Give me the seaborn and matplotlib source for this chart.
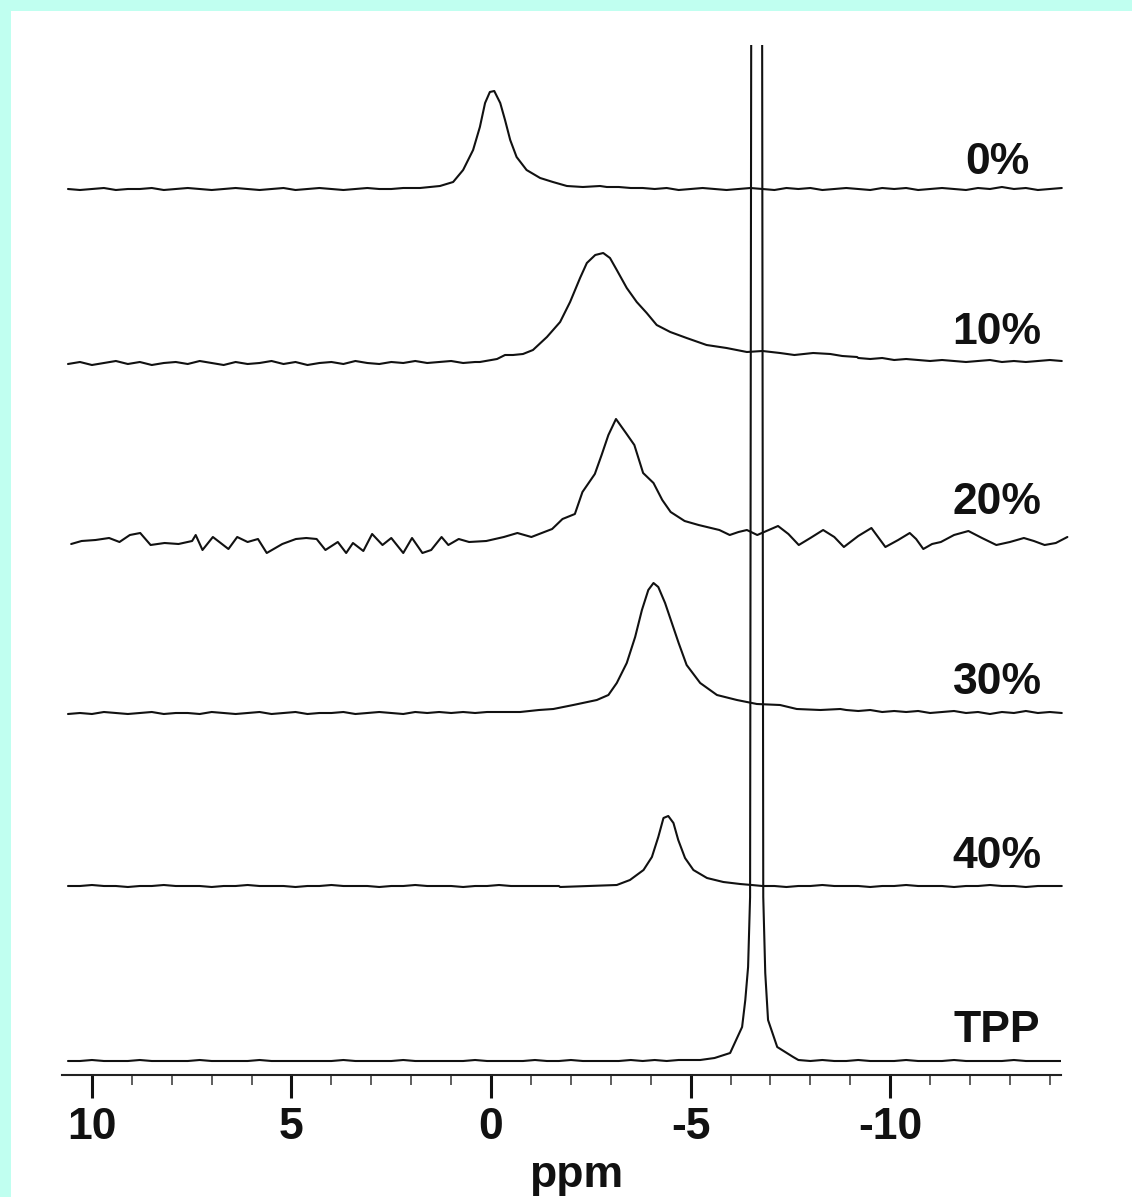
import numpy as np
import pandas as pd
import matplotlib
matplotlib.use("Agg")
import matplotlib.pyplot as plt
from matplotlib.patches import Rectangle
from matplotlib.ticker import FixedLocator
import seaborn as sns

# ---------------- data ----------------
labels = ["0%", "10%", "20%", "30%", "40%", "TPP"]
offsets = [886, 712, 535, 362, 189, 14]          # stacking offset of each trace (a.u.)

grid_ppm = [10.6, 10.3, 10.0, 9.7, 9.4, 9.1, 8.8, 8.5, 8.2, 7.9,
            7.6, 7.3, 7.0, 6.7, 6.4, 6.1, 5.8, 5.5, 5.2, 4.9,
            4.6, 4.3, 4.0, 3.7, 3.4, 3.1, 2.8, 2.5, 2.2, 1.9,
            1.6, 1.3, 1.0, 0.7, 0.4, 0.1, -0.2, -0.5, -0.8, -1.1,
            -1.4, -1.7, -2.0, -2.3, -2.6, -2.9, -3.2, -3.5, -3.8, -4.1,
            -4.4, -4.7, -5.0, -5.3, -5.6, -5.9, -6.2, -6.5, -6.8, -7.1,
            -7.4, -7.7, -8.0, -8.3, -8.6, -8.9, -9.2, -9.5, -9.8, -10.1,
            -10.4, -10.7, -11.0, -11.3, -11.6, -11.9, -12.2, -12.5, -12.8, -13.1,
            -13.4, -13.7, -14.0, -14.3]

base_0 = [0, -1, 0, 1, -1, 0, 0, 1, -1, 0,
          1, 0, -1, 0, 1, 0, -1, 0, 1, -1,
          0, 1, 0, -1, 0, 1, 0, 0, 1, 1,
          0, 0, 0, 0, 0, 0, 0, 0, 0, 0, 0, 0, 0, 0, 0,
          2, 2, 1, 1, 0, 1, -1, 0, 1, 0,
          -1, 0, 1, 0, -1, 1, 0, 1, -1, 0,
          1, 0, -1, 1, 0, 1, -1, 0, 1, 0,
          -1, 1, 0, 2, 0, 1, -1, 0, 1]
base_10 = [-1, 1, -2, 0, 2, -1, 1, -2, 0, 1,
           -1, 2, 0, -2, 1, -1, 0, 2, -1, 1,
           -2, 0, 1, -1, 2, 0, -1, 1, 0, 2,
           0, 1, 2, 0, 1,
           0, 0, 0, 0, 0, 0, 0, 0, 0, 0, 0, 0, 0, 0, 0, 0,
           0, 0, 0, 0, 0, 0, 0, 0, 0, 0, 0, 0, 0, 0, 0,
           5, 4, 5, 3, 4, 3, 2, 3, 2, 1,
           2, 3, 1, 2, 1, 2, 3, 2]
base_30 = [-1, 0, -1, 1, 0, -1, 0, 1, -1, 0,
           0, -1, 1, 0, -1, 0, 1, -1, 0, 1,
           -1, 0, 0, 1, -1, 0, 1, 0, -1, 1,
           0, 1, 0, 1, 0, 1, 1, 1,
           0, 0, 0, 0, 0, 0, 0, 0, 0, 0, 0, 0, 0, 0,
           0, 0, 0, 0, 0, 0, 0, 0, 0, 0, 0, 0, 0,
           3, 2, 3, 1, 2, 1, 2, 0, 1, 2,
           0, 1, -1, 1, 0, 2, 0, 1, 0]
base_40 = [0, 0, 1, 0, 0, -1, 0, 0, 1, 0,
           0, 0, -1, 0, 0, 1, 0, 0, 0, -1,
           0, 0, 1, 0, 0, 0, -1, 0, 0, 1,
           0, 0, 0, -1, 0, 0, 1, 0, 0, 0, 0,
           0, 0, 0, 0, 0, 0, 0, 0, 0, 0, 0, 0, 0, 0, 0, 0, 0,
           0, 0, -1, 0, 0, 1, 0, 0, 0, -1,
           0, 0, 1, 0, 0, 0, -1, 0, 0, 1,
           0, 0, -1, 0, 0, 0]
base_tpp = [0, 0, 1, 0, 0, 0, 1, 0, 0, 0,
            0, 1, 0, 0, 0, 0, 1, 0, 0, 0,
            0, 0, 0, 1, 0, 0, 0, 0, 1, 0,
            0, 0, 0, 0, 1, 0, 0, 0, 0, 1,
            0, 0, 1, 0, 0, 0, 0, 1, 0, 1, 0, 1, 1,
            0, 0, 0, 0, 0, 0, 0, 0,
            1, 0, 1, 0, 0, 1, 0, 0, 0, 1,
            0, 0, 0, 1, 0, 0, 0, 0, 1, 0, 0, 0, 0]

peak_0_ppm = [1.78, 1.28, 0.95, 0.70, 0.45, 0.28, 0.15, 0.03, -0.08, -0.23,
              -0.35, -0.48, -0.64, -0.89, -1.23, -1.55, -1.90, -2.30, -2.73]
peak_0_int = [1, 3, 7, 19, 39, 62, 86, 97, 98, 86,
              69, 49, 32, 19, 11, 7, 3, 2, 3]

peak_10_ppm = [0.28, -0.15, -0.35, -0.55, -0.8, -1.05, -1.40, -1.73, -1.98, -2.23,
               -2.40, -2.61, -2.81, -2.98, -3.15, -3.40, -3.65, -3.90, -4.15, -4.49,
               -4.90, -5.40, -5.90, -6.41, -6.8, -7.24, -7.6, -8.07, -8.5, -8.8, -9.17]
peak_10_int = [1, 4, 8, 8, 9, 13, 26, 41, 61, 85,
               100, 108, 110, 105, 93, 75, 61, 50, 38, 31,
               25, 18, 15, 11, 12, 10, 8, 10, 9, 7, 6]

trace_20_ppm = [10.52, 10.26, 9.91, 9.57, 9.31, 9.05, 8.79, 8.53, 8.18, 7.83,
                7.49, 7.40, 7.23, 6.97, 6.58, 6.36, 6.10, 5.84, 5.62, 5.23,
                4.89, 4.63, 4.37, 4.15, 3.84, 3.63, 3.46, 3.20, 2.98, 2.72,
                2.50, 2.20, 1.98, 1.72, 1.50, 1.24, 1.07, 0.81, 0.55, 0.12,
                -0.32, -0.66, -1.01, -1.53, -1.79, -2.10, -2.29, -2.60, -2.77, -2.94,
                -3.13, -3.38, -3.59, -3.81, -4.07, -4.29, -4.50, -4.85, -5.20, -5.72,
                -5.98, -6.2, -6.41, -6.67, -6.9, -7.19, -7.45, -7.71, -8.0, -8.32,
                -8.6, -8.84, -9.2, -9.53, -9.88, -10.2, -10.49, -10.65, -10.83, -11.05,
                -11.27, -11.6, -11.96, -12.3, -12.66, -13.0, -13.35, -13.6, -13.87, -14.15,
                -14.44]
trace_20_int = [-4, -1, 0, 2, -2, 5, 7, -5, -3, -4,
                -1, 5, -10, 3, -9, 3, -2, 1, -13, -4,
                1, 2, 1, -10, -2, -13, -3, -11, 6, -5,
                2, -13, 2, -13, -10, 3, -5, 1, -2, -1,
                3, 7, 3, 11, 21, 26, 48, 66, 85, 105,
                121, 107, 95, 67, 57, 40, 28, 19, 15, 10,
                5, 8, 10, 5, 9, 14, 6, -5, 2, 10,
                3, -7, 4, 12, -7, 0, 7, 1, -9, -4,
                -2, 5, 9, 2, -5, -2, 2, -1, -5, -3,
                3]

peak_30_ppm = [-0.73, -1.2, -1.56, -2.06, -2.65, -2.94, -3.15, -3.40, -3.61, -3.78,
               -3.94, -4.07, -4.19, -4.36, -4.53, -4.70, -4.90, -5.24, -5.66, -6.16,
               -6.66, -7.24, -7.66, -8.25, -8.75]
peak_30_int = [1, 3, 4, 8, 13, 18, 30, 50, 76, 103,
               123, 130, 126, 110, 90, 70, 48, 30, 18, 13,
               9, 8, 4, 3, 4]

peak_40_ppm = [-1.73, -3.15, -3.48, -3.82, -4.03, -4.19, -4.32, -4.44, -4.57, -4.69,
               -4.86, -5.07, -5.41, -5.82, -6.24, -6.53]
peak_40_int = [-1, 1, 6, 16, 29, 49, 68, 70, 63, 46,
               28, 16, 8, 4, 2, 1]

peak_tpp_ppm = [-5.24, -5.6, -5.99, -6.29, -6.37, -6.44, -6.49, -6.53, -6.65, -6.78,
                -6.82, -6.87, -6.94, -7.17, -7.57]
peak_tpp_int = [1, 3, 8, 34, 61, 94, 164, 1400, 3000, 1400,
                164, 88, 41, 14, 4]

major_ticks = [10, 5, 0, -5, -10]
minor_ticks = [9, 8, 7, 6, 4, 3, 2, 1, -1, -2, -3, -4, -6, -7, -8, -9,
               -11, -12, -13, -14]


def merge(base, pk_ppm, pk_int):
    lo, hi = min(pk_ppm), max(pk_ppm)
    pts = [(p, v) for p, v in zip(grid_ppm, base) if not (lo <= p <= hi)]
    pts += list(zip(pk_ppm, pk_int))
    pts.sort()
    return [p for p, _ in pts], [v for _, v in pts]


traces = {
    "0%": merge(base_0, peak_0_ppm, peak_0_int),
    "10%": merge(base_10, peak_10_ppm, peak_10_int),
    "20%": (trace_20_ppm, trace_20_int),
    "30%": merge(base_30, peak_30_ppm, peak_30_int),
    "40%": merge(base_40, peak_40_ppm, peak_40_int),
    "TPP": merge(base_tpp, peak_tpp_ppm, peak_tpp_int),
}
label_shift = {"0%": 26, "10%": 30, "20%": 37, "30%": 31, "40%": 30, "TPP": 31}

# ---------------- style ----------------
sns.set_theme(style="white")
plt.rcParams["font.family"] = ["Liberation Sans", "DejaVu Sans"]
plt.rcParams["font.weight"] = "bold"
plt.rcParams["axes.unicode_minus"] = False

W, H = 1132, 1197
fig = plt.figure(figsize=(W / 100, H / 100), dpi=100, facecolor="#c0fff0")
fig.patches.append(Rectangle((11 / W, 0), 1, 1 - 11 / H, transform=fig.transFigure,
                             facecolor="white", edgecolor="none", zorder=-10))
ax = fig.add_axes([62 / W, 1 - 1075 / H, (1061 - 62) / W, (1075 - 45) / H])
ax.set_facecolor("none")

for lab, off in zip(labels, offsets):
    x, y = traces[lab]
    df = pd.DataFrame({"ppm": x, "signal": np.asarray(y, dtype=float) + off})
    sns.lineplot(data=df, x="ppm", y="signal", ax=ax, color="#111111", lw=1.5,
                 estimator=None, sort=True, clip_on=(lab == "TPP"))
    ax.text(-12.68, off + label_shift[lab], lab, ha="center", va="center",
            fontsize=32, fontweight="bold", color="#111111")

ax.set_xlim(10.75, -14.28)
ax.set_ylim(0, 1030)
ax.set_yticks([])
ax.set_ylabel("")
for s in ["top", "right", "left"]:
    ax.spines[s].set_visible(False)
ax.spines["bottom"].set_linewidth(1.5)
ax.spines["bottom"].set_color("#222222")

ax.xaxis.set_major_locator(FixedLocator(major_ticks))
ax.xaxis.set_minor_locator(FixedLocator(minor_ticks))
ax.set_xticklabels([str(t) for t in major_ticks])
ax.tick_params(axis="x", which="major", direction="out", length=16.5, width=2.2,
               pad=6.5, labelsize=32, colors="#111111", bottom=True)
ax.tick_params(axis="x", which="minor", direction="out", length=7.2, width=1.1,
               colors="#333333", bottom=True)
for t in ax.get_xticklabels():
    t.set_fontweight("bold")

ax.set_xlabel("ppm", fontsize=32, fontweight="bold", color="#111111")
ax.xaxis.set_label_coords(0.515, -0.0777)

fig.savefig("out.png", dpi=100, facecolor=fig.get_facecolor())
